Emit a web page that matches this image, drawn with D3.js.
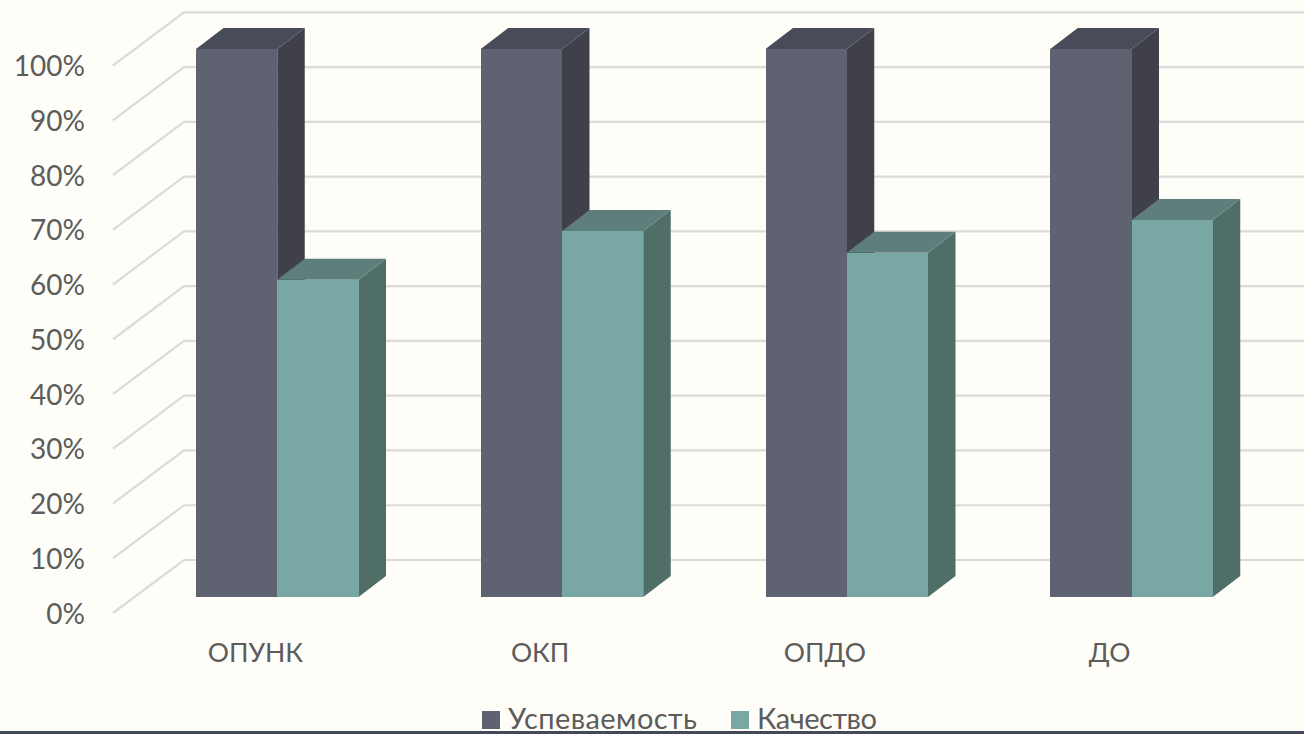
<!DOCTYPE html>
<html>
<head>
<meta charset="utf-8">
<script src="https://cdn.jsdelivr.net/npm/d3@7"></script>
<style>
  html, body { margin: 0; padding: 0; background: #fefdf8; overflow: hidden; }
  svg { display: block; }
  text { font-family: "Lato", "Open Sans", sans-serif; fill: #5c5c5c; }
</style>
</head>
<body>
<div id="chart"></div>
<script>
// Data
const categories = ["ОПУНК", "ОКП", "ОПДО", "ДО"];
const seriesNames = ["Успеваемость", "Качество"];
const uspevaemost = [100, 100, 100, 100];
const kachestvo = [57.9, 66.8, 62.8, 68.8];
const percentTicks = [0, 10, 20, 30, 40, 50, 60, 70, 80, 90, 100];

const width = 1304, height = 734;
const depthWall = {dx: 71, dy: -54};   // side wall of the 3d box
const depthBar = {dx: 27.5, dy: -21};  // depth of each column
const frontColors = ["#5f6271", "#79a8a4"];
const sideColors = ["#3f404a", "#4f6e68"];
const topColors = ["#484c58", "#5d7e7a"];

const svg = d3.select("#chart")
    .append("svg")
    .attr("width", width)
    .attr("height", height)
    .attr("viewBox", [0, 0, width, height]);

svg.append("rect")
    .attr("width", width)
    .attr("height", height)
    .attr("fill", "#fefdf8");

/* Scales: bars stand on a floor in front of the back wall */
const xScale = d3.scaleBand()
    .domain(categories)
    .range([114, 1253]);
const xSeries = d3.scaleBand()
    .domain(seriesNames)
    .range([0, 162.5]);
const yBar = d3.scaleLinear().domain([0, 100]).range([597, 49]);
const yFront = d3.scaleLinear().domain([0, 100]).range([613, 65.5]);
const yBack = d3.scaleLinear().domain([0, 100]).range([560, 12.3]);

// Gridlines, left wall then back wall
const wallX = 113;
svg.append("g")
    .selectAll("path")
    .data(percentTicks)
    .join("path")
    .attr("d", d => d3.line()([
        [wallX, yFront(d)],
        [wallX + depthWall.dx, yBack(d)],
        [width, yBack(d)]
    ]))
    .attr("fill", "none")
    .attr("stroke", "#dcdbd8")
    .attr("stroke-width", 2.2);

// Columns: series by series so the teal top sits over the dark side
const barOffset = 82;
const barX = (cat, name) => xScale(cat) + barOffset + xSeries(name);
const rows = [];
categories.forEach((c, i) => {
    rows.push({cat: c, s: 0, value: uspevaemost[i]});
    rows.push({cat: c, s: 1, value: kachestvo[i]});
});

const bars = svg.append("g")
    .selectAll("g")
    .data(rows)
    .join("g");

const w = xSeries.bandwidth();
bars.append("path") // side
    .attr("d", d => {
        const x = barX(d.cat, seriesNames[d.s]) + w;
        return d3.line()([[x, yBar(d.value)], [x + depthBar.dx, yBar(d.value) + depthBar.dy],
            [x + depthBar.dx, yBar(0) + depthBar.dy], [x, yBar(0)]]) + "Z";
    })
    .attr("fill", d => sideColors[d.s]);
bars.append("path") // top
    .attr("d", d => {
        const x = barX(d.cat, seriesNames[d.s]);
        const y = yBar(d.value);
        return d3.line()([[x, y], [x + depthBar.dx, y + depthBar.dy],
            [x + w + depthBar.dx, y + depthBar.dy], [x + w, y]]) + "Z";
    })
    .attr("fill", d => topColors[d.s]);
bars.append("rect") // front
    .attr("x", d => barX(d.cat, seriesNames[d.s]))
    .attr("y", d => yBar(d.value))
    .attr("width", w)
    .attr("height", d => yBar(0) - yBar(d.value))
    .attr("fill", d => frontColors[d.s])
    .attr("shape-rendering", "crispEdges");

/* Axes, only the labels are visible */
const yAxis = d3.axisLeft(yFront)
    .tickValues(percentTicks)
    .tickFormat(d => d + "%")
    .tickSize(0)
    .tickPadding(0);
svg.append("g")
    .attr("transform", "translate(85,0)")
    .call(yAxis)
    .call(g => g.select(".domain").remove())
    .selectAll("text")
    .style("font-size", "28px")
    .style("font-family", null)
    .attr("dy", "0.36em");

const xAxis = d3.axisBottom(xScale).tickSize(0).tickPadding(0);
svg.append("g")
    .attr("transform", "translate(-1,662)")
    .call(xAxis)
    .call(g => g.select(".domain").remove())
    .selectAll("text")
    .style("font-size", "26.5px")
    .style("font-family", null)
    .attr("y", 0)
    .attr("dy", 0);

// Legend
const legendX = d3.scaleOrdinal().domain(seriesNames).range([482, 731]);
const legend = svg.append("g")
    .selectAll("g")
    .data(seriesNames)
    .join("g")
    .attr("transform", d => `translate(${legendX(d)},711)`);
legend.append("rect")
    .attr("width", 18)
    .attr("height", 18)
    .attr("fill", (d, i) => frontColors[i]);
legend.append("text")
    .attr("x", 26)
    .attr("y", 18)
    .style("font-size", "29px")
    .attr("textLength", (d, i) => [189, 120][i])
    .attr("lengthAdjust", "spacing")
    .text(d => d);

// Dark strip along the bottom edge of the slide
svg.append("rect")
    .attr("x", 0)
    .attr("y", 731)
    .attr("width", width)
    .attr("height", 3)
    .attr("fill", "#44495a");
</script>
</body>
</html>
